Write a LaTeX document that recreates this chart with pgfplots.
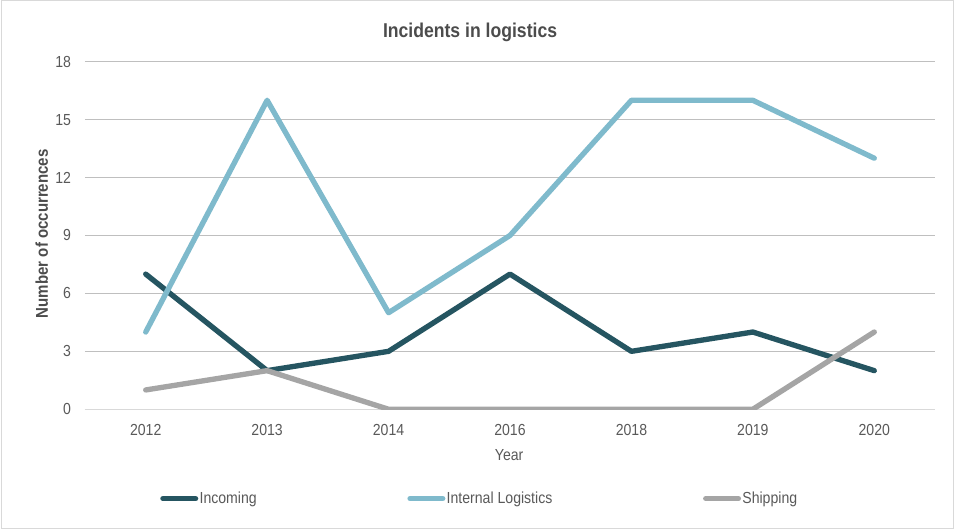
\documentclass[border=0pt]{standalone}
\usepackage{pgfplots}
\pgfplotsset{compat=1.18}
\usepackage{fontspec}
\setmainfont{Liberation Sans}[FakeStretch=0.88]
\definecolor{incoming}{HTML}{255561}
\definecolor{internal}{HTML}{7FBACC}
\definecolor{shipping}{HTML}{A5A5A5}
\definecolor{txt}{HTML}{595959}
\definecolor{grid}{HTML}{D9D9D9}
\begin{document}
\begin{tikzpicture}
\path[use as bounding box] (0,0) rectangle (715.5pt,396.75pt);
\draw[grid, line width=0.75pt] (0.75pt,0.75pt) rectangle (714.75pt,396pt);
\begin{axis}[
  at={(63.75pt,89.8pt)}, anchor=south west,
  width=637.5pt, height=260.7pt, scale only axis,
  xmin=-0.5, xmax=6.5, ymin=0, ymax=18,
  xtick={0,...,6},
  xticklabels={2012,2013,2014,2016,2018,2019,2020},
  ytick={0,3,...,18},
  ymajorgrids, xmajorgrids=false, major grid style={grid, line width=0.75pt},
  axis x line*=bottom, axis y line*=left,
  x axis line style={grid, line width=0.75pt, -},
  y axis line style={draw=none},
  major tick length=0pt,
  tick label style={font=\fontsize{12}{14}\selectfont, text=txt},
  xticklabel style={yshift=-8pt},
  yticklabel style={xshift=-7pt},
  /pgf/number format/assume math mode=true,
  every axis title shift=0pt,
  title={Incidents in logistics},
  title style={font=\fontsize{15}{17}\selectfont\bfseries, text=txt!85!black, at={(0.453,1.083)}, anchor=center},
  xlabel={Year},
  xlabel style={font=\fontsize{12}{14}\selectfont, text=txt, at={(0.499,-0.131)}, anchor=center},
  ylabel={Number of occurrences},
  ylabel style={font=\fontsize{12.8}{14}\selectfont\bfseries, text=txt!85!black, at={(-0.051,0.505)}, anchor=center},
  legend columns=3,
  legend style={at={(0.464,-0.257)}, anchor=center, draw=none, fill=none,
    font=\fontsize{12}{14}\selectfont, text=txt,
    /tikz/every even column/.append style={column sep=112pt},
    nodes={inner xsep=1pt}},
  legend image code/.code={\draw[#1, line cap=round] (2pt,0pt) -- (26.5pt,0pt);},
  every axis plot/.append style={line width=4pt, line cap=round, line join=round, mark=none},
]
\addplot[incoming] coordinates {(0,7) (1,2) (2,3) (3,7) (4,3) (5,4) (6,2)};
\addlegendentry{Incoming}
\addplot[internal] coordinates {(0,4) (1,16) (2,5) (3,9) (4,16) (5,16) (6,13)};
\addlegendentry{Internal Logistics}
\addplot[shipping] coordinates {(0,1) (1,2) (2,0) (3,0) (4,0) (5,0) (6,4)};
\addlegendentry{Shipping}
\end{axis}
\end{tikzpicture}
\end{document}
